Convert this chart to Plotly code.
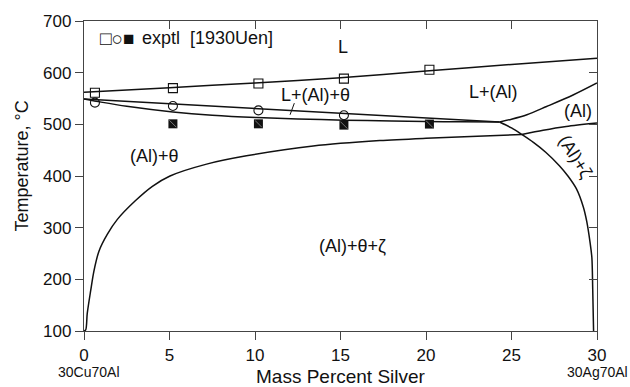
import plotly.graph_objects as go

# ---------------- data ----------------
# liquidus  L / L+(Al)
liq_x = [0, 5, 10, 15, 20, 25, 30]
liq_t = [562, 571, 580, 590, 603, 616, 628]

# L / L+(Al)+theta  (upper of the two middle lines)
upper_x = [0, 6, 12, 18, 24.3]
upper_t = [549, 538, 527, 516, 504.5]

# L+(Al)+theta / (Al)+theta  (lower of the two middle lines)
lower_x = [0, 1, 2.5, 5.2, 7.5, 10.1, 12.5, 15.2, 18, 20, 22, 24.3]
lower_t = [549, 543, 535, 524, 517.5, 513, 510.5, 508, 506.5, 505.5, 505, 504.5]

# (Al) solidus  L+(Al) / (Al)
sol_x = [24.3, 25.0, 25.9, 27.05, 28.6, 30]
sol_t = [504.5, 510, 518.6, 534.5, 556.7, 580]

# (Al) / (Al)+zeta solvus
solv_x = [25.6, 26.85, 28.2, 30]
solv_t = [480.4, 488.7, 496, 502.7]

# (Al)+theta / (Al)+theta+zeta
th_x = [0, 0.1, 0.19, 0.39, 0.58, 0.88, 1.36, 1.95, 3.0, 4.0, 5.03, 7.17, 9.5, 13.4, 17.3, 20.0, 23.0, 25.6]
th_t = [100, 102, 134, 178, 216, 255, 287, 316, 352, 380, 400, 423, 439, 458, 468.5, 473, 477, 480.4]

# (Al)+zeta / (Al)+theta+zeta
ze_x = [24.3, 25.0, 25.6, 26.3, 27.0, 27.8, 28.3, 28.8, 29.2, 29.4, 29.6, 29.7, 29.75, 29.8]
ze_t = [504.5, 493, 480.4, 464.5, 446, 420, 400, 375, 340, 312, 270, 242, 180, 100]

# experimental points [1930Uen]
exp_sq_x = [0.64, 5.2, 10.2, 15.2, 20.2]
exp_sq_t = [561, 570, 579, 588.5, 605.5]
exp_ci_x = [0.64, 5.2, 10.2, 15.2]
exp_ci_t = [542, 535.5, 527, 517.5]
exp_fs_x = [5.2, 10.2, 15.2, 20.2]
exp_fs_t = [501, 501, 498.5, 500.5]

# leader line for the L+(Al)+theta label
lead_x = [12.05, 12.3]
lead_t = [518.5, 541]

x_ticks = [0, 5, 10, 15, 20, 25, 30]
y_ticks = [100, 200, 300, 400, 500, 600, 700]

FONT = "Liberation Sans, Arial, sans-serif"
INK = "#111111"
AX = "#444444"

fig = go.Figure()

def curve(xs, ys, shape="spline"):
    fig.add_trace(go.Scatter(x=xs, y=ys, mode="lines",
                             line=dict(color=INK, width=1.5, shape=shape, smoothing=0.8),
                             hoverinfo="skip", showlegend=False, cliponaxis=False))

curve(liq_x, liq_t)
curve(upper_x, upper_t, "linear")
curve(lower_x, lower_t)
curve(sol_x, sol_t)
curve(solv_x, solv_t)
curve(th_x, th_t)
curve(ze_x, ze_t)
fig.add_trace(go.Scatter(x=lead_x, y=lead_t, mode="lines",
                         line=dict(color=INK, width=1), showlegend=False, hoverinfo="skip"))

fig.add_trace(go.Scatter(x=exp_sq_x, y=exp_sq_t, mode="markers", showlegend=False,
                         marker=dict(symbol="square-open", size=9, color=INK, line=dict(width=1.1))))
fig.add_trace(go.Scatter(x=exp_ci_x, y=exp_ci_t, mode="markers", showlegend=False,
                         marker=dict(symbol="circle-open", size=9, color=INK, line=dict(width=1.1))))
fig.add_trace(go.Scatter(x=exp_fs_x, y=exp_fs_t, mode="markers", showlegend=False,
                         marker=dict(symbol="square", size=9, color=INK, line=dict(width=0))))
fig.add_trace(go.Scatter(x=exp_fs_x, y=exp_fs_t, mode="markers", showlegend=False, hoverinfo="skip",
                         marker=dict(symbol="line-nw", size=7, color="#bbbbbb",
                                     line=dict(width=0.6, color="#bbbbbb"))))

# dummy trace to activate mirrored (inside-tick) axes
fig.add_trace(go.Scatter(x=[None], y=[None], xaxis="x2", yaxis="y2", showlegend=False))

def label(x, y, text, size=18, angle=0, xanchor="center", xref="x", yref="y"):
    fig.add_annotation(x=x, y=y, text=text, showarrow=False, textangle=angle,
                       xanchor=xanchor, yanchor="middle",
                       xref=xref, yref=yref, font=dict(family=FONT, size=size, color=INK))

label(15.16, 649, "L")
label(13.55, 556, "L+(Al)+θ")
label(23.97, 563, "L+(Al)")
label(28.9, 525, "(Al)")
label(28.75, 437, "(Al)+ζ", angle=58)
label(4.15, 439, "(Al)+θ")
label(15.7, 264, "(Al)+θ+ζ")
label(0.8, 667, "□○■", size=19, xanchor="left")
label(3.3, 667, "exptl  [1930Uen]", size=18, xanchor="left")

# composition end labels, axis titles
label(0.3, -0.133, "30Cu70Al", size=14, yref="paper")
label(30, -0.133, "30Ag70Al", size=14, yref="paper")
label(15, -0.146, "Mass Percent Silver", size=19, yref="paper")
label(-0.121, 420, "Temperature, °C", size=18, angle=-90, xref="paper")

common = dict(showgrid=False, zeroline=False, showline=True, linecolor=AX, linewidth=1.3,
              ticklen=8, tickcolor=AX, tickwidth=1.2)

fig.update_layout(
    width=630, height=387,
    margin=dict(l=84, r=33, t=17, b=56),
    paper_bgcolor="white", plot_bgcolor="white",
    font=dict(family=FONT, size=17, color=INK),
    xaxis=dict(range=[0, 30], tickvals=x_ticks, ticks="outside", **common),
    yaxis=dict(range=[100, 700], tickvals=y_ticks, ticks="outside", **common),
    xaxis2=dict(range=[0, 30], tickvals=x_ticks, ticks="inside", overlaying="x", side="top",
                anchor="y", showticklabels=False, **common),
    yaxis2=dict(range=[100, 700], tickvals=y_ticks, ticks="inside", overlaying="y", side="right",
                anchor="x", showticklabels=False, **common),
)

fig.write_html("out.html", config={"displayModeBar": False},
               post_script="document.body.style.margin='0px';document.body.style.overflow='hidden';")
